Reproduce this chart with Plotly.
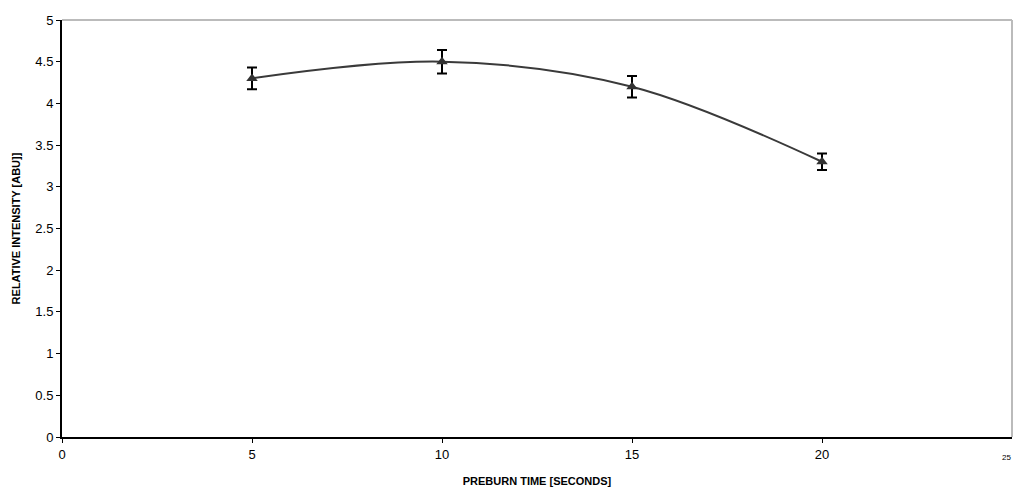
import plotly.graph_objects as go

x_vals = [5, 10, 15, 20]
y_vals = [4.3, 4.5, 4.2, 3.3]
err_vals = [0.13, 0.14, 0.13, 0.1]
x_ticks = [0, 5, 10, 15, 20]
y_ticks = [0, 0.5, 1, 1.5, 2, 2.5, 3, 3.5, 4, 4.5, 5]

fig = go.Figure()
fig.add_trace(go.Scatter(
    x=x_vals, y=y_vals, mode="lines+markers",
    line=dict(color="#3a3a3a", width=2, shape="spline", smoothing=1),
    marker=dict(symbol="triangle-up", size=10, color="#333333"),
    error_y=dict(type="data", array=err_vals, visible=True, color="#000000", thickness=2, width=5),
    showlegend=False,
))

fig.update_layout(
    width=1013, height=489,
    margin=dict(l=62, r=1, t=20, b=52),
    plot_bgcolor="white", paper_bgcolor="white",
    font=dict(family="Arial, Liberation Sans", size=13, color="#000000"),
    xaxis=dict(range=[0, 25], tickvals=x_ticks, ticktext=[str(v) for v in x_ticks],
               showgrid=False, zeroline=False, showline=True, linecolor="#000000", linewidth=2,
               ticks="outside", ticklen=4, tickcolor="#000000", mirror=False,
               tickfont=dict(size=13),
               title=dict(text="<b>PREBURN TIME [SECONDS]</b>", font=dict(size=11), standoff=17)),
    yaxis=dict(range=[0, 5], tickvals=y_ticks, ticktext=[f"{v:g}" for v in y_ticks],
               showgrid=False, zeroline=False, showline=True, linecolor="#000000", linewidth=2,
               ticks="outside", ticklen=4, tickcolor="#000000",
               tickfont=dict(size=13),
               title=dict(text="<b>RELATIVE INTENSITY [ABU]]</b>", font=dict(size=11), standoff=12)),
    shapes=[
        dict(type="line", xref="paper", yref="paper", x0=0, x1=1, y0=1, y1=1,
             line=dict(color="#bbbbbb", width=2)),
        dict(type="line", xref="paper", yref="paper", x0=1, x1=1, y0=0, y1=1,
             line=dict(color="#bbbbbb", width=2)),
    ],
    annotations=[dict(text="25", x=1.0, y=0, xref="paper", yref="paper", xanchor="right", yanchor="top",
                      yshift=-14, xshift=1, showarrow=False, font=dict(size=8))],
)

fig.write_html("out.html")
